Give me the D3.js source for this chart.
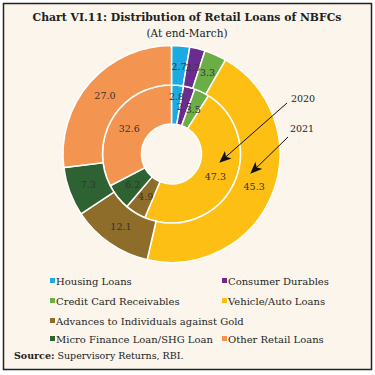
<!DOCTYPE html>
<html><head><meta charset="utf-8">
<script src="https://cdn.jsdelivr.net/npm/d3@7"></script>
<style>html,body{margin:0;padding:0;background:#fff;}svg{display:block;}</style>
</head><body>
<svg id="c" width="375" height="375"></svg>
<script>
const categories = ["Housing Loans","Consumer Durables","Credit Card Receivables","Vehicle/Auto Loans","Advances to Individuals against Gold","Micro Finance Loan/SHG Loan","Other Retail Loans"];
const colors = ["#1BAAE1","#6A2D8F","#6BAE45","#FDBF14","#8E6C2A","#2F6232","#F39451"];
const values2020 = [2.8,2.7,3.5,47.3,4.9,6.2,32.6];
const values2021 = [2.7,2.3,3.3,45.3,12.1,7.3,27.0];
const years = ["2020","2021"];

const svg = d3.select("#c");
const font = "'DejaVu Serif', serif";
svg.append("rect").attr("x",3.5).attr("y",3.5).attr("width",368).attr("height",366)
  .attr("fill","#FBF5EB").attr("stroke","#222").attr("stroke-width",1.5);

svg.append("text").attr("x",187).attr("y",21).attr("text-anchor","middle")
  .attr("font-family",font).attr("font-weight","bold").attr("font-size",11).attr("fill","#222")
  .attr("textLength",309).attr("lengthAdjust","spacingAndGlyphs")
  .text("Chart VI.11: Distribution of Retail Loans of NBFCs");
svg.append("text").attr("x",187).attr("y",37).attr("text-anchor","middle")
  .attr("font-family",font).attr("font-size",10.5).attr("fill","#222")
  .text("(At end-March)");

const cx = 171.5, cy = 154;
const g = svg.append("g").attr("transform",`translate(${cx},${cy})`);
const pie = d3.pie().sort(null).value(d=>d.v);
const color = d3.scaleOrdinal().domain(categories).range(colors);
function ring(vals, r0, r1, firstLabelR){
  const data = pie(vals.map((v,i)=>({v, c:categories[i]})));
  const arc = d3.arc().innerRadius(r0).outerRadius(r1);
  const gg = g.append("g");
  gg.selectAll("path").data(data).join("path").attr("d",arc)
    .attr("fill",d=>color(d.data.c)).attr("stroke","#fff").attr("stroke-width",1.5);
  gg.selectAll("text").data(data).join("text")
    .attr("transform",(d,i)=>{
      if(i===0 && firstLabelR){
        const a=(d.startAngle+d.endAngle)/2;
        return `translate(${Math.sin(a)*firstLabelR},${-Math.cos(a)*firstLabelR})`;
      }
      return `translate(${arc.centroid(d)})`;
    })
    .attr("text-anchor","middle").attr("dy","0.35em")
    .attr("font-family",font).attr("font-size",9.5).attr("fill","#333")
    .text(d=>d.data.v.toFixed(1));
}
ring(values2020, 30, 69, 58);
ring(values2021, 69, 108.5, 88);

// arrows
const defs = svg.append("defs");
defs.append("marker").attr("id","ah").attr("viewBox","0 0 12 10").attr("refX",11).attr("refY",5)
  .attr("markerWidth",12).attr("markerHeight",10).attr("markerUnits","userSpaceOnUse").attr("orient","auto")
  .append("path").attr("d","M0,0 L12,5 L0,10 L3,5 z").attr("fill","#111");
const arrows = [
  {y:years[0], tx:303, ty:102, x1:287, y1:103, x2:220, y2:162},
  {y:years[1], tx:302, ty:132, x1:288, y1:137, x2:251, y2:173}
];
arrows.forEach(a=>{
  svg.append("line").attr("x1",a.x1).attr("y1",a.y1).attr("x2",a.x2).attr("y2",a.y2)
    .attr("stroke","#111").attr("stroke-width",1).attr("marker-end","url(#ah)");
  svg.append("text").attr("x",a.tx).attr("y",a.ty).attr("text-anchor","middle")
    .attr("font-family",font).attr("font-size",9.5).attr("fill","#222").text(a.y);
});

// legend
const legendPos = [[50,281],[222,281],[50,301],[222,301],[50,321],[50,339],[222,339]];
const lg = svg.append("g");
categories.forEach((c,i)=>{
  const [x,y] = legendPos[i];
  lg.append("rect").attr("x",x).attr("y",y-3).attr("width",5).attr("height",5).attr("fill",colors[i]);
  lg.append("text").attr("x",x+6).attr("y",y+3.5).attr("font-family",font).attr("font-size",10)
    .attr("fill","#262626").text(c);
});
const src = svg.append("text").attr("x",14).attr("y",359).attr("font-family",font).attr("font-size",9.5).attr("fill","#222");
src.append("tspan").attr("font-weight","bold").text("Source:");
src.append("tspan").text(" Supervisory Returns, RBI.");
</script>
</body></html>
